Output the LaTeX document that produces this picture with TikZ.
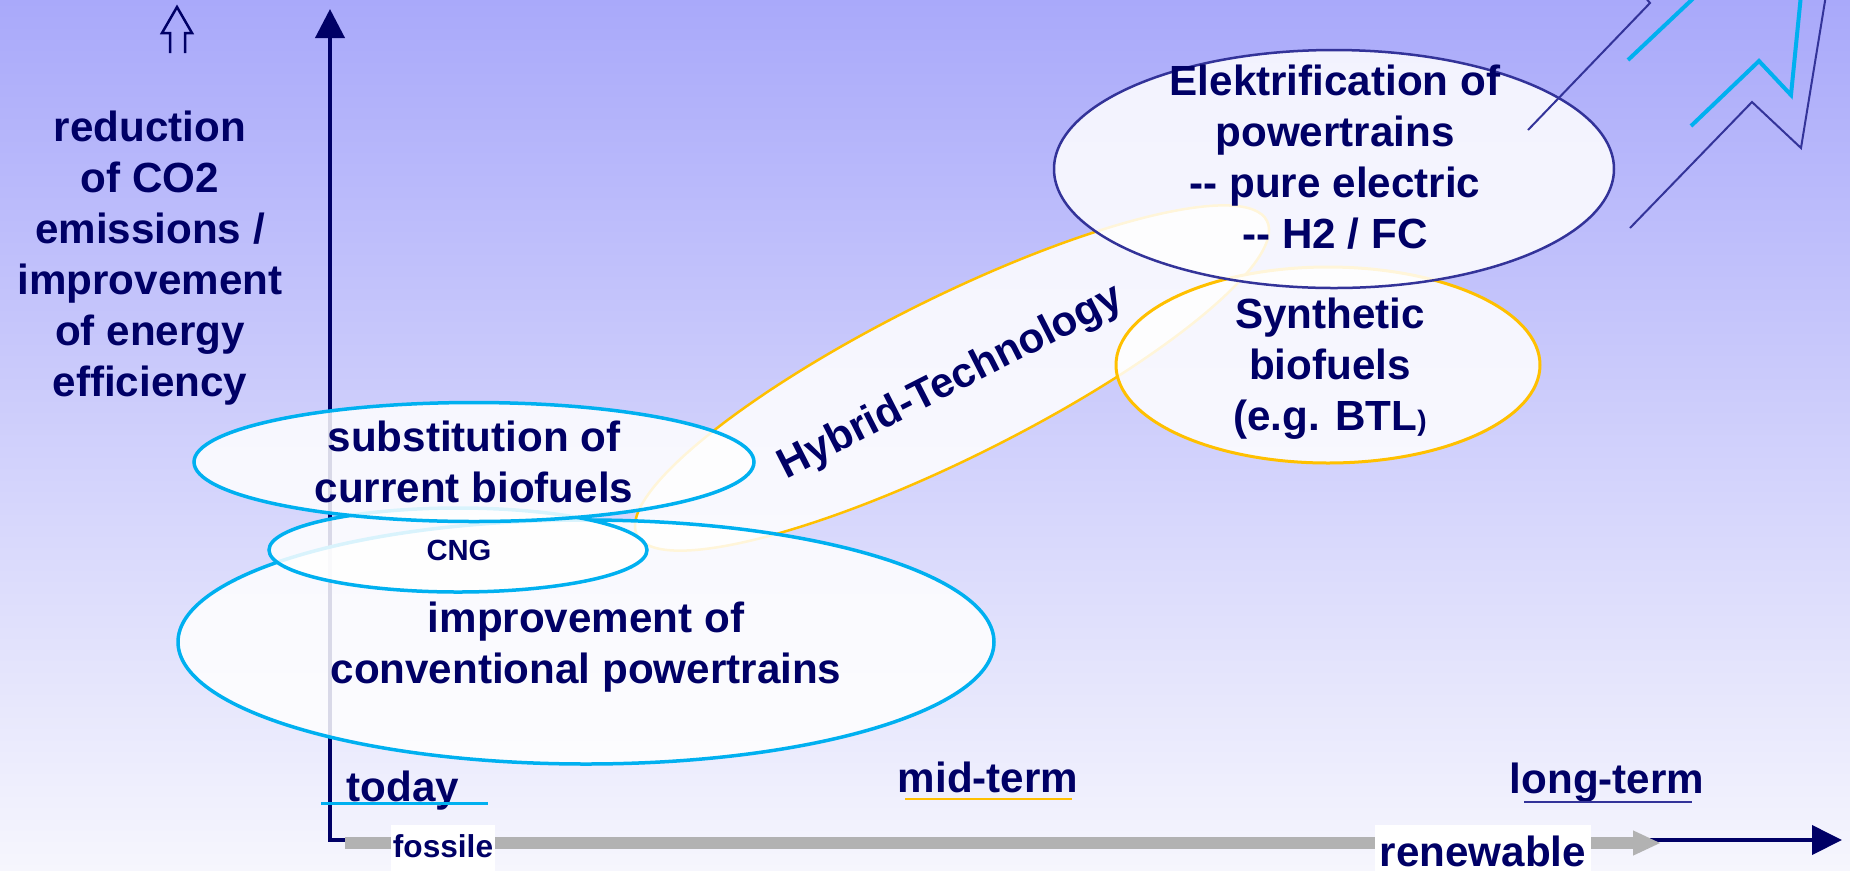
\documentclass[tikz,border=0pt]{standalone}
\usepackage{fontspec}
\setmainfont{Liberation Sans}
\usetikzlibrary{shapes.geometric,arrows.meta}
\definecolor{navy}{HTML}{000066}
\definecolor{elec}{HTML}{333399}
\definecolor{cyanline}{HTML}{00B0F0}
\definecolor{gold}{HTML}{FFC000}
\definecolor{bartone}{HTML}{B2B2B2}
\definecolor{bgtop}{HTML}{A9A9FA}
\definecolor{bgbot}{HTML}{F6F6FD}

\begin{document}
\begin{tikzpicture}[x=0.1mm,y=-0.1mm,
    txt/.style={font=\fontsize{12}{14.5}\selectfont\bfseries, text=navy, align=center, inner sep=0pt},
    bubble/.style={ellipse, draw, fill=white, fill opacity=0.85, inner sep=0pt},
    tag/.style={txt, fill=white, inner ysep=0pt}]
  \useasboundingbox (0,0) rectangle (1850,870);
  \shade[top color=bgtop, bottom color=bgbot] (0,0) rectangle (1850,870);

  % axes
  \path
    (330,9) coordinate(ytip)
    (330,840) coordinate(origin)
    (1842,840) coordinate(xtip)
    (345,843) coordinate(barstart)
    (1661,843) coordinate(barend)
    ;
  \draw[navy, line width=0.4mm, {Triangle[length=2.9mm,width=2.9mm]}-{Triangle[length=3mm,width=2.9mm]}]
    (ytip) -- (origin) -- (xtip);
  \draw[bartone, line width=1.2mm, -{Triangle[length=2.8mm,width=2.3mm]}] (barstart) -- (barend);

  \path
    (443,857) node[tag, anchor=base, inner xsep=0.15mm, text height=3.2mm, text depth=1.5mm,
      font=\fontsize{9}{10}\selectfont\bfseries](fossile) {fossile}
    (1483,866) node[tag, anchor=base, inner xsep=0.5mm, text height=4.1mm, text depth=1mm](renewable) {renewable}
    ;

  % bubbles
  \path
    (952,378) node[bubble, draw=gold, line width=0.25mm, minimum width=70.4mm, minimum height=16mm, rotate=26.5](hybrid) {}
    (1328,365) node[bubble, draw=gold, line width=0.3mm, minimum width=42.4mm, minimum height=19.6mm](synth) {}
    (1334,169) node[bubble, draw=elec, line width=0.25mm, minimum width=56mm, minimum height=23.8mm](elektro) {}
    (586,642) node[bubble, draw=cyanline, line width=0.35mm, minimum width=81.6mm, minimum height=24.4mm](convent) {}
    (458,550) node[bubble, draw=cyanline, line width=0.35mm, minimum width=37.8mm, minimum height=8.4mm](cng) {}
    (474,462) node[bubble, draw=cyanline, line width=0.35mm, minimum width=56mm, minimum height=11.9mm](subst) {}
    ;

  % lightning
  \draw[elec, line width=0.2mm] (1528,130) -- (1650,3) -- (1645,-3);
  \draw[cyanline, line width=0.4mm] (1628,60) -- (1700,-8);
  \draw[cyanline, line width=0.4mm] (1691,126) -- (1759,61) -- (1791,95) -- (1801,-5);
  \draw[elec, line width=0.2mm] (1630,228) -- (1752,102) -- (1801,148) -- (1826,-5);

  % hollow arrow
  \draw[navy, line width=0.25mm] (170,53) -- (170,33) -- (162,33) -- (177,7) -- (192,33) -- (185,33) -- (185,53);

  % texts
  \path
    (150,258) node[txt](goal) {reduction\\of CO2\\emissions /\\improvement\\of energy\\efficiency}
    (474,462) node[txt](substtext) {substitution of\\current biofuels}
    (459,550) node[txt, font=\fontsize{8.3}{10}\selectfont\bfseries](cngtext) {CNG}
    (586,647) node[txt](conventtext) {improvement of\\conventional powertrains}
    (1335,157) node[txt](elektrotext) {Elektrification of\\powertrains\\-{}- pure electric\\-{}- H2 / FC}
    (1330,369) node[txt](synthtext) {Synthetic\\biofuels\\(e.g. BTL{\fontsize{8}{9}\selectfont)}}
    (951,383) node[txt, rotate=27](hybridtext) {Hybrid-Technology}
    (403,801) node[txt, anchor=base](today) {today}
    (988,792) node[txt, anchor=base](midterm) {mid-term}
    (1607,793) node[txt, anchor=base](longterm) {long-term}
    ;
  \draw[cyanline, line width=0.3mm] (321,803) -- (488,803);
  \draw[gold, line width=0.25mm] (905,799) -- (1072,799);
  \draw[elec, line width=0.25mm] (1524,802) -- (1692,802);
\end{tikzpicture}
\end{document}
